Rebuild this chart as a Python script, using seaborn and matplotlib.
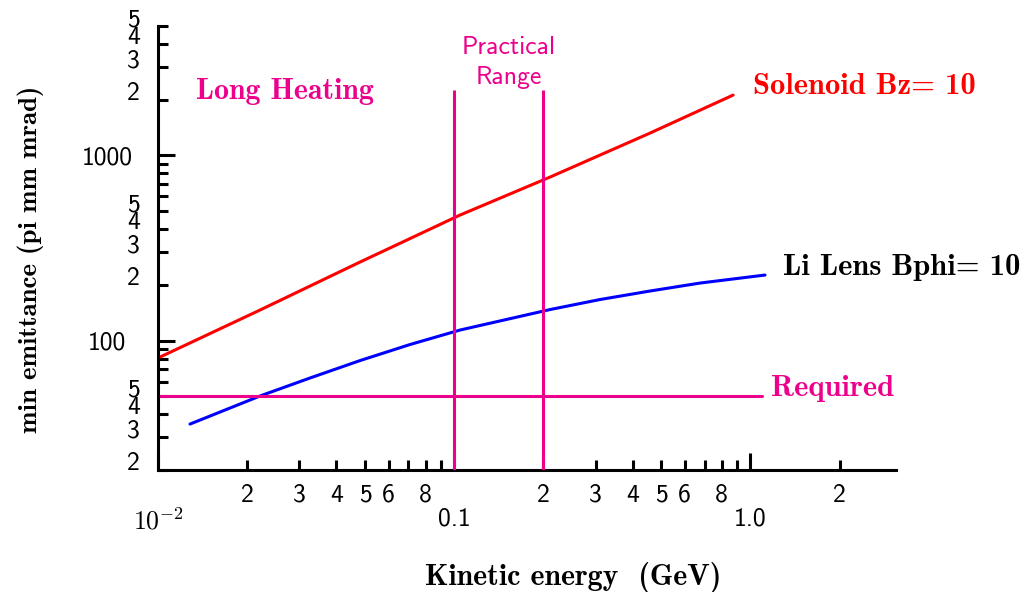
import matplotlib
matplotlib.use("Agg")
import matplotlib.pyplot as plt
import pandas as pd
import seaborn as sns
from matplotlib.ticker import FixedLocator, FixedFormatter

# Kinetic energy (GeV) versus minimum emittance (pi mm mrad)
solenoid_energy = [0.01016, 0.0221, 0.0481, 0.1046, 0.2107, 0.458, 0.874]
solenoid_emit = [81.5, 146.2, 265.6, 476.3, 764.2, 1320, 2118]

lilens_energy = [0.01282, 0.0221, 0.0326, 0.0481, 0.0709, 0.1046, 0.2107,
                 0.3106, 0.458, 0.676, 1.12]
lilens_emit = [35.4, 50.2, 62.8, 78.0, 95.2, 114.0, 147.1,
               166.6, 185.2, 204.5, 225.9]

required_energy = [0.01, 1.094]
required_emit = [50, 50]

practical_bounds = [0.1, 0.2]
practical_span = [20, 2250]

x_major = [0.01, 0.1, 1.0]
x_major_labels = [r"$\mathsf{10^{-2}}$", "0.1", "1.0"]
x_minor = [0.02, 0.03, 0.04, 0.05, 0.06, 0.07, 0.08, 0.09,
           0.2, 0.3, 0.4, 0.5, 0.6, 0.7, 0.8, 0.9, 2.0]
x_minor_labels = ["2", "3", "4", "5", "6", "", "8", "",
                  "2", "3", "4", "5", "6", "", "8", "", "2"]

y_major = [100, 1000]
y_major_labels = ["100", "1000"]
y_minor = [20, 30, 40, 50, 60, 70, 80, 90,
           200, 300, 400, 500, 600, 700, 800, 900,
           2000, 3000, 4000, 5000]
y_minor_labels = ["2", "3", "4", "5", "", "", "", "",
                  "2", "3", "4", "5", "", "", "", "",
                  "2", "3", "4", "5"]

RED = "#ff0000"
BLUE = "#0000ff"
PINK = "#ec008c"

sns.set_theme(style="white")
plt.rcParams["mathtext.fontset"] = "cm"
plt.rcParams["font.family"] = ["cmss10", "DejaVu Sans"]
plt.rcParams["axes.unicode_minus"] = False

W, H = 1026, 592
fig = plt.figure(figsize=(W / 100, H / 100), dpi=100)
ax = fig.add_axes([158 / W, 1 - 470 / H, 738 / W, 444 / H])
ax.set_xscale("log")
ax.set_yscale("log")
ax.set_xlim(0.01, 3.1)
ax.set_ylim(20, 5000)

lw = 2.2
sol = pd.DataFrame({"energy": solenoid_energy, "emittance": solenoid_emit})
lil = pd.DataFrame({"energy": lilens_energy, "emittance": lilens_emit})
req = pd.DataFrame({"energy": required_energy, "emittance": required_emit})
sns.lineplot(data=sol, x="energy", y="emittance", color=RED, linewidth=lw, ax=ax)
sns.lineplot(data=lil, x="energy", y="emittance", color=BLUE, linewidth=lw, ax=ax)
sns.lineplot(data=req, x="energy", y="emittance", color=PINK, linewidth=lw, ax=ax)
ax.vlines(practical_bounds, practical_span[0], practical_span[1], color=PINK,
          linewidth=lw, zorder=3)

# spines and ticks
for side in ("top", "right"):
    ax.spines[side].set_visible(False)
for side in ("left", "bottom"):
    ax.spines[side].set_linewidth(2.2)
    ax.spines[side].set_color("black")
ax.grid(False)

ax.xaxis.set_major_locator(FixedLocator(x_major))
ax.xaxis.set_major_formatter(FixedFormatter(x_major_labels))
ax.xaxis.set_minor_locator(FixedLocator(x_minor))
ax.xaxis.set_minor_formatter(FixedFormatter(x_minor_labels))
ax.yaxis.set_major_locator(FixedLocator(y_major))
ax.yaxis.set_major_formatter(FixedFormatter(y_major_labels))
ax.yaxis.set_minor_locator(FixedLocator(y_minor))
ax.yaxis.set_minor_formatter(FixedFormatter(y_minor_labels))

ax.tick_params(which="both", direction="in", width=2.2, color="black",
               labelcolor="black", labelsize=18.5, top=False, right=False,
               bottom=True, left=True)
ax.tick_params(which="major", length=12)
ax.tick_params(which="minor", length=7.5)
ax.tick_params(axis="x", which="minor", pad=10)
ax.tick_params(axis="x", which="major", pad=27)
ax.tick_params(axis="y", which="minor", pad=13)
ax.tick_params(axis="y", which="major", pad=36.5)

plt.setp(ax.yaxis.get_majorticklabels(), ha="center")
plt.setp(ax.yaxis.get_minorticklabels(), va="baseline")

ax.set_xlabel("Kinetic energy  (GeV)", fontfamily="cmb10", fontsize=21.5,
              color="black", va="center")
ax.xaxis.set_label_coords(0.562, -0.241)
ax.set_ylabel("min emittance (pi mm mrad)", fontfamily="cmb10", fontsize=19.4,
              color="black", va="center")
ax.yaxis.set_label_coords(-0.172, 0.475)

# annotations
bold = dict(fontfamily="cmb10", va="center", ha="left")
ax.text(0.0134, 2208, "Long Heating", color=PINK, fontsize=21.5, **bold)
ax.text(1.02, 2350, "Solenoid Bz= 10", color=RED, fontsize=22, **bold)
ax.text(1.29, 247, "Li Lens Bphi= 10", color="black", fontsize=22, **bold)
ax.text(1.17, 54.8, "Required", color=PINK, fontsize=22, **bold)
ax.text(0.153, 3180, "Practical\nRange", color=PINK, fontfamily="cmss10",
        fontsize=18.5, ha="center", va="center", multialignment="center",
        linespacing=1.4)

fig.savefig("out.png", dpi=100)
